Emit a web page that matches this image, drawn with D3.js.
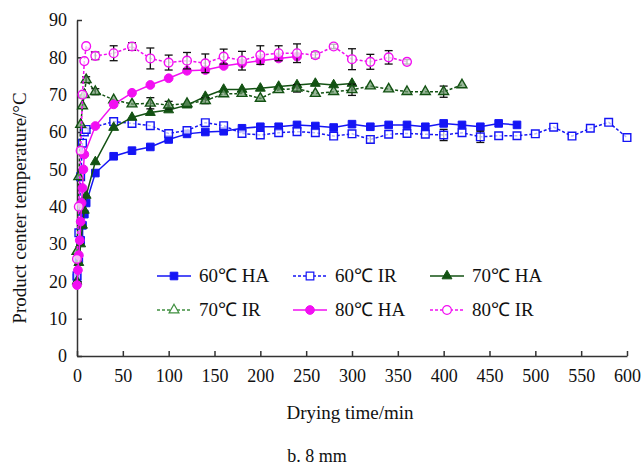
<!DOCTYPE html>
<html>
<head>
<meta charset="utf-8">
<script src="https://cdn.jsdelivr.net/npm/d3@7"></script>
<style>
  body { margin: 0; background: #fff; }
  svg { display: block; font-family: 'Liberation Serif', 'Times New Roman', serif; }
</style>
</head>
<body>
<svg width="642" height="465"></svg>
<script>
// time (min) and product center temperature (°C)
var tHA60 = [0, 2, 4, 6, 8, 10, 20, 40, 60, 80, 100, 120, 140, 160, 180, 200, 220, 240, 260, 280, 300, 320, 340, 360, 380, 400, 420, 440, 460, 480]
var vHA60 = [21, 26, 31, 35, 38, 41, 49, 53.5, 55, 56, 58, 59.5, 60, 60.2, 61, 61.4, 61.4, 61.9, 61.6, 61.2, 62.1, 61.4, 61.9, 61.9, 61.4, 62.3, 61.9, 61.4, 62.3, 61.9]

var tIR60 = [0, 2, 4, 6, 8, 10, 40, 60, 80, 100, 120, 140, 160, 180, 200, 220, 240, 260, 280, 300, 320, 340, 360, 380, 400, 420, 440, 460, 480, 500, 520, 540, 560, 580, 600]
var vIR60 = [21.5, 33, 48, 57, 60, 60.7, 62.8, 62.3, 61.7, 59.6, 60.4, 62.5, 61.7, 59.6, 59.2, 59.8, 60.1, 59.8, 58.9, 59.5, 58, 59.4, 59.6, 59.4, 59.2, 59.8, 58.7, 59, 59, 59.5, 61.3, 58.9, 61, 62.6, 58.5]
var eIR60 = [0, 0, 0, 0, 0, 0, 0, 0, 0, 0, 0, 0, 0, 0, 0, 0, 0, 0, 0, 0, 1, 0, 0, 0, 1.5, 0, 1.5, 0, 0, 0, 0, 0, 0, 0, 0]

var tHA70 = [0, 2, 4, 6, 8, 10, 20, 40, 60, 80, 100, 120, 140, 160, 180, 200, 220, 240, 260, 280, 300]
var vHA70 = [20, 25, 30, 35, 39, 43, 52, 61.2, 63.9, 65.2, 65.9, 67.2, 69.5, 71.4, 71.4, 71.7, 72.2, 72.6, 73, 72.6, 73]

var tIR70 = [0, 2, 4, 6, 8, 10, 20, 40, 60, 80, 100, 120, 140, 160, 180, 200, 220, 240, 260, 280, 300, 320, 340, 360, 380, 400, 420]
var vIR70 = [28, 48, 62, 67, 70, 74, 70.8, 68.6, 67.5, 67.7, 67.2, 67.6, 68.4, 70.2, 70.3, 69, 71.3, 71.7, 70.3, 70.8, 71.3, 72.3, 71.5, 70.8, 70.8, 70.8, 72.6]
var eIR70 = [0, 0, 0, 0, 0, 0.8, 0.8, 0, 0, 1.5, 1, 0, 0.8, 0, 0, 0, 0, 1, 0, 0, 1.5, 0, 0, 0, 0, 1.5, 0]

var tHA80 = [0, 1, 2, 3, 4, 5, 6, 7, 8, 20, 40, 60, 80, 100, 120, 140, 160, 180, 200, 220, 240]
var vHA80 = [19, 23, 27, 31, 36, 41, 45, 50, 54, 61.6, 67.4, 70.5, 72.6, 74.4, 76.4, 76.6, 77.7, 78.4, 79.1, 79.7, 80.2]

var tIR80 = [0, 2, 4, 6, 8, 10, 20, 40, 60, 80, 100, 120, 140, 160, 180, 200, 220, 240, 260, 280, 300, 320, 340, 360]
var vIR80 = [26, 40, 55, 70, 79, 83, 80.4, 81.1, 82.9, 79.7, 78.6, 79.1, 78.4, 80.2, 79.1, 80.6, 81.1, 81.1, 80.6, 82.9, 79.5, 78.8, 80, 78.8]
var eIR80 = [0, 0, 0, 0, 0, 0, 1, 2, 1, 2.8, 2, 2.2, 2.5, 2, 2.5, 2.5, 2, 2.5, 0.8, 0.6, 2.8, 2, 1.8, 0.6]

var xTicks = [0, 50, 100, 150, 200, 250, 300, 350, 400, 450, 500, 550, 600]
var yTicks = [0, 10, 20, 30, 40, 50, 60, 70, 80, 90]

var blue = '#1515f5', green = '#135213', pink = '#f20ff2'

var series = [
    { name: '60\u2103 HA', t: tHA60, v: vHA60, e: null, color: blue, marker: 'square', fill: blue, dash: null },
    { name: '60\u2103 IR', t: tIR60, v: vIR60, e: eIR60, color: blue, marker: 'square', fill: '#fff', dash: '3,2' },
    { name: '70\u2103 HA', t: tHA70, v: vHA70, e: null, color: green, marker: 'triangle', fill: green, dash: null },
    { name: '70\u2103 IR', t: tIR70, v: vIR70, e: eIR70, color: green, marker: 'triangle', fill: '#6f9a6f', dash: '3,2', legendColor: '#3f8f3f' },
    { name: '80\u2103 HA', t: tHA80, v: vHA80, e: null, color: pink, marker: 'circle', fill: pink, dash: null },
    { name: '80\u2103 IR', t: tIR80, v: vIR80, e: eIR80, color: pink, marker: 'circle', fill: '#fff', dash: '3,2' }
]

var svg = d3.select('svg')
var margin = { left: 77, right: 15, top: 20, bottom: 109 }
var width = 642 - margin.left - margin.right
var height = 465 - margin.top - margin.bottom

var xScale = d3.scaleLinear().domain([0, 600]).range([0, width])
var yScale = d3.scaleLinear().domain([0, 90]).range([height, 0])

var g = svg.append('g')
    .attr('transform', 'translate(' + margin.left + ',' + margin.top + ')')

// axes, ticks point inwards
var xAxis = d3.axisBottom(xScale).tickValues(xTicks).tickSizeInner(-5).tickSizeOuter(0).tickPadding(13)
var yAxis = d3.axisLeft(yScale).tickValues(yTicks).tickSizeInner(-5).tickSizeOuter(0).tickPadding(10)

var gx = g.append('g')
    .attr('transform', 'translate(0,' + height + ')')
    .call(xAxis)
var gy = g.append('g').call(yAxis)

;[gx, gy].forEach(function(a) {
    a.selectAll('path, line').attr('stroke', '#333').attr('stroke-width', 1.5)
    a.selectAll('text').attr('font-size', 18).attr('fill', '#111')
        .style('font-family', "'Liberation Serif', 'Times New Roman', serif")
})

function markerPath(type, size) {
    var sym = type === 'square' ? d3.symbolSquare : type === 'circle' ? d3.symbolCircle : d3.symbolTriangle
    return d3.symbol().type(sym).size(size)()
}
var markerSize = { square: 58, circle: 60, triangle: 42 }

var line = d3.line()
    .x(function(d) { return xScale(d[0]) })
    .y(function(d) { return yScale(d[1]) })

series.forEach(function(s) {
    var pts = s.t.map(function(t, i) { return [t, s.v[i], s.e ? s.e[i] : 0] })
    var sg = g.append('g')

    sg.append('path')
        .datum(pts)
        .attr('d', line)
        .attr('fill', 'none')
        .attr('stroke', s.color)
        .attr('stroke-width', 1.5)
        .attr('stroke-dasharray', s.dash)

    // error bars
    var bars = sg.selectAll('g.err')
        .data(pts.filter(function(d) { return d[2] > 0 }))
        .enter().append('g')
        .attr('class', 'err')
        .attr('stroke', '#111')
        .attr('stroke-width', 1.3)
    bars.append('line')
        .attr('x1', function(d) { return xScale(d[0]) })
        .attr('x2', function(d) { return xScale(d[0]) })
        .attr('y1', function(d) { return yScale(d[1] - d[2]) })
        .attr('y2', function(d) { return yScale(d[1] + d[2]) })
    ;[-1, 1].forEach(function(sgn) {
        bars.append('line')
            .attr('x1', function(d) { return xScale(d[0]) - 4 })
            .attr('x2', function(d) { return xScale(d[0]) + 4 })
            .attr('y1', function(d) { return yScale(d[1] + sgn * d[2]) })
            .attr('y2', function(d) { return yScale(d[1] + sgn * d[2]) })
    })

    sg.selectAll('path.pt')
        .data(pts)
        .enter().append('path')
        .attr('class', 'pt')
        .attr('d', markerPath(s.marker, markerSize[s.marker]))
        .attr('transform', function(d) { return 'translate(' + xScale(d[0]) + ',' + yScale(d[1]) + ')' })
        .attr('fill', s.fill)
        .attr('fill-opacity', s.fill === s.color ? 1 : 0.7)
        .attr('stroke', s.color)
        .attr('stroke-width', s.fill === s.color ? 1 : 1.4)
})

// legend, 3 columns x 2 rows
var legCols = [157, 293, 430]
var legRows = [276, 310]
series.forEach(function(s, i) {
    var lx = legCols[i % 3]
    var ly = legRows[Math.floor(i / 3)]
    var c = s.legendColor || s.color
    var lg = svg.append('g')
    lg.append('line')
        .attr('x1', lx).attr('x2', lx + 34)
        .attr('y1', ly).attr('y2', ly)
        .attr('stroke', c).attr('stroke-width', 1.5)
        .attr('stroke-dasharray', s.dash)
    lg.append('path')
        .attr('d', markerPath(s.marker, markerSize[s.marker]))
        .attr('transform', 'translate(' + (lx + 17) + ',' + ly + ')')
        .attr('fill', s.fill === s.color ? c : '#fff')
        .attr('stroke', c)
        .attr('stroke-width', s.fill === s.color ? 1 : 1.2)
    lg.append('text')
        .attr('x', lx + 42).attr('y', ly + 6)
        .attr('font-size', 19).attr('fill', '#111')
        .text(s.name)
})

// titles
svg.append('text')
    .attr('x', margin.left + xScale(300) - 2).attr('y', 419)
    .attr('text-anchor', 'middle').attr('font-size', 19).attr('fill', '#111')
    .text('Drying time/min')

svg.append('text')
    .attr('transform', 'translate(26,' + (margin.top + height / 2 + 20) + ') rotate(-90)')
    .attr('text-anchor', 'middle').attr('font-size', 19).attr('fill', '#111')
    .text('Product center temperature/\u00b0C')

svg.append('text')
    .attr('x', 317).attr('y', 462)
    .attr('text-anchor', 'middle').attr('font-size', 18).attr('fill', '#111')
    .text('b. 8 mm')
</script>
</body>
</html>
